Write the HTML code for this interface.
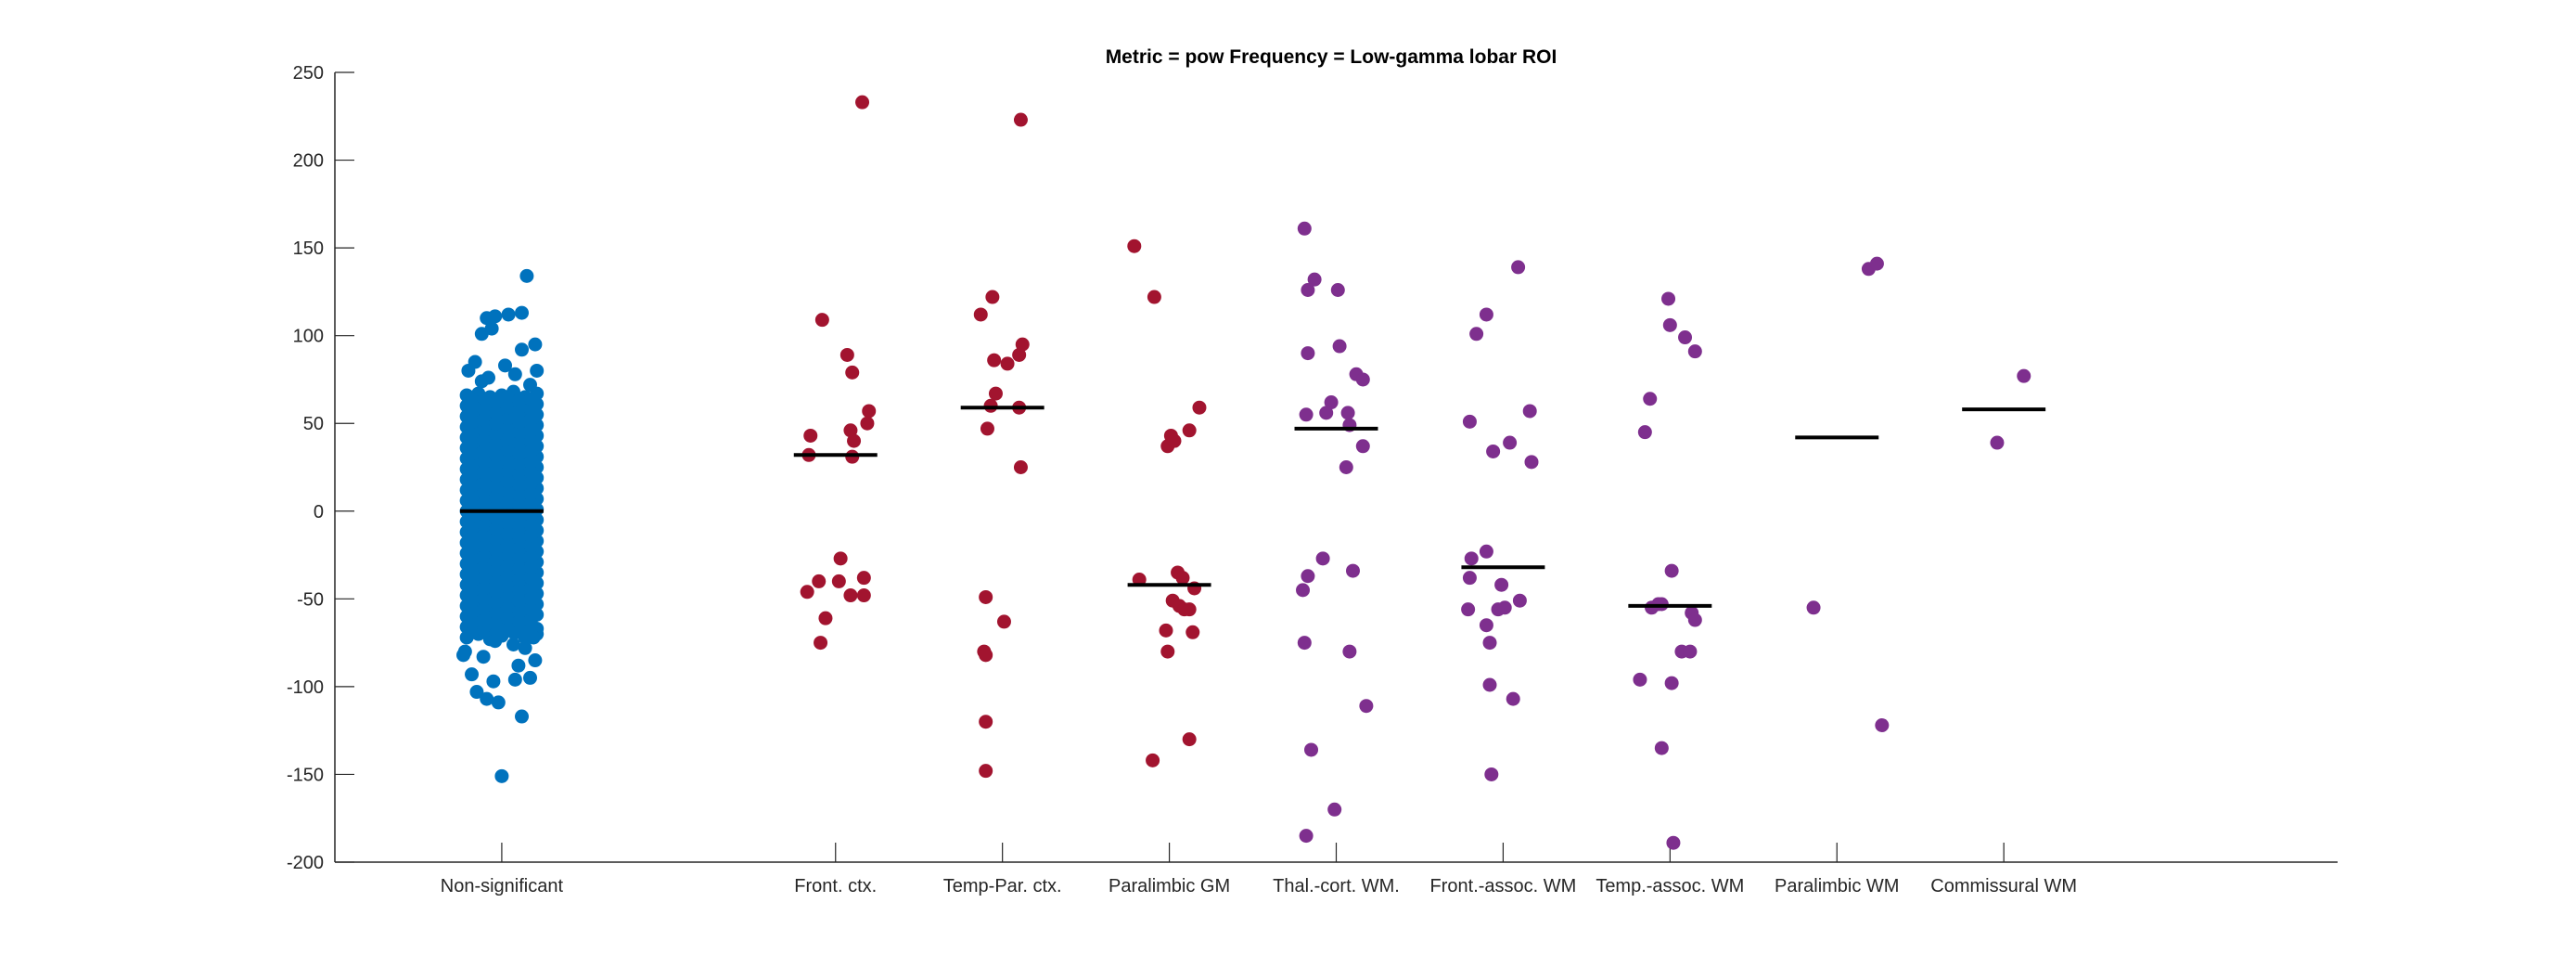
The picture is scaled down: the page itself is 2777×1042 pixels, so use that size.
<!DOCTYPE html>
<html><head><meta charset="utf-8"><style>
body{margin:0;background:#fff;}
svg{display:block;}
text{font-family:"Liberation Sans",sans-serif;fill:#262626;}
</style></head><body>
<svg id="chart" width="2777" height="1042" viewBox="0 0 2777 1042" xmlns="http://www.w3.org/2000/svg">
<rect width="2777" height="1042" fill="#fff"/>
<text x="1435" y="68" text-anchor="middle" font-size="21" font-weight="bold" style="fill:#000">Metric = pow Frequency = Low-gamma lobar ROI</text>
<g id="axes"></g>
<g id="marks"></g>
</svg>
<script>
const categories = ["Non-significant","Front. ctx.","Temp-Par. ctx.","Paralimbic GM","Thal.-cort. WM.","Front.-assoc. WM","Temp.-assoc. WM","Paralimbic WM","Commissural WM"];
const catPos = [1,3,4,5,6,7,8,9,10];
const yTicks = [250,200,150,100,50,0,-50,-100,-150,-200];
const medians = [0,32,59,-42,47,-32,-54,42,58];
const groupColors = ["#0072BD","#A2142F","#A2142F","#A2142F","#7E2F8E","#7E2F8E","#7E2F8E","#7E2F8E","#7E2F8E"];

const frontY = [233,109,89,79,43,46,40,57,50,32,31,-27,-40,-40,-46,-48,-48,-38,-61,-75];
const frontJ = [0.16,-0.08,0.07,0.10,-0.15,0.09,0.11,0.20,0.19,-0.16,0.10,0.03,-0.10,0.02,-0.17,0.09,0.17,0.17,-0.06,-0.09];
const tempParY = [223,122,112,86,84,95,89,67,47,60,59,25,-49,-63,-80,-82,-120,-148];
const tempParJ = [0.11,-0.06,-0.13,-0.05,0.03,0.12,0.10,-0.04,-0.09,-0.07,0.10,0.11,-0.10,0.01,-0.11,-0.10,-0.10,-0.10];
const paraGMY = [151,122,59,46,43,37,40,-39,-35,-38,-51,-54,-56,-44,-56,-68,-69,-80,-142,-130];
const paraGMJ = [-0.21,-0.09,0.18,0.12,0.01,-0.01,0.03,-0.18,0.05,0.08,0.02,0.06,0.09,0.15,0.12,-0.02,0.14,-0.01,-0.10,0.12];
const thalY = [161,132,126,126,90,94,62,78,75,56,55,56,37,49,25,-27,-37,-34,-45,-75,-80,-111,-136,-170,-185];
const thalJ = [-0.19,-0.13,-0.17,0.01,-0.17,0.02,-0.03,0.12,0.16,0.07,-0.18,-0.06,0.16,0.08,0.06,-0.08,-0.17,0.10,-0.20,-0.19,0.08,0.18,-0.15,-0.01,-0.18];
const frontAssocY = [139,112,101,51,57,39,34,28,-23,-27,-38,-42,-56,-51,-56,-65,-55,-75,-99,-107,-150];
const frontAssocJ = [0.09,-0.10,-0.16,-0.20,0.16,0.04,-0.06,0.17,-0.10,-0.19,-0.20,-0.01,-0.03,0.10,-0.21,-0.10,0.01,-0.08,-0.08,0.06,-0.07];
const tempAssocY = [121,106,99,91,64,45,-34,-53,-55,-53,-58,-62,-80,-80,-96,-98,-135,-189];
const tempAssocJ = [-0.01,0.00,0.09,0.15,-0.12,-0.15,0.01,-0.05,-0.11,-0.07,0.13,0.15,0.07,0.12,-0.18,0.01,-0.05,0.02];
const paraWMY = [138,141,-55,-122];
const paraWMJ = [0.19,0.24,-0.14,0.27];
const commY = [77,39];
const commJ = [0.12,-0.04];

const nsOutY = [134,113,112,111,101,104,110,95,92,80,-151,-117,-109,-103,-107,-93,-97,-96,-95,-88,-85,-82,-83,80,85,83,-78,-80,76,78,72,74,-74,-76,-72];
const nsOutJ = [0.15,0.12,0.04,-0.04,-0.12,-0.06,-0.09,0.20,0.12,0.21,0.00,0.12,-0.02,-0.15,-0.09,-0.18,-0.05,0.08,0.17,0.10,0.20,-0.23,-0.11,-0.20,-0.16,0.02,0.14,-0.22,-0.08,0.08,0.17,-0.12,-0.04,0.07,0.19];
const nsCoreY = [
-72,-70,-73,-71,-69,-72,-70, -66,-65,-67,-64,-66,-65,-67, -60,-59,-61,-60,-58,-61,-59,
-54,-53,-55,-54,-52,-55,-53, -48,-47,-49,-48,-46,-49,-47, -42,-41,-43,-42,-40,-43,-41,
-36,-35,-37,-36,-34,-37,-35, -30,-29,-31,-30,-28,-31,-29, -24,-23,-25,-24,-22,-25,-23,
-18,-17,-19,-18,-16,-19,-17, -12,-11,-13,-12,-10,-13,-11, -6,-5,-7,-6,-4,-7,-5,
0,1,-1,0,2,-1,1, 6,7,5,6,8,5,7, 12,13,11,12,14,11,13, 18,19,17,18,20,17,19,
24,25,23,24,26,23,25, 30,31,29,30,32,29,31, 36,37,35,36,38,35,37, 42,43,41,42,44,41,43,
48,49,47,48,50,47,49, 54,55,53,54,56,53,55, 60,61,59,60,62,59,61, 66,67,65,66,68,65,67
];
const nsCoreJ = [-0.21,-0.14,-0.07,0,0.07,0.14,0.21];
const nsCore2Y = [
-69,-68,-70,-67,-69,-68, -63,-62,-64,-61,-63,-62, -57,-56,-58,-55,-57,-56,
-51,-50,-52,-49,-51,-50, -45,-44,-46,-43,-45,-44, -39,-38,-40,-37,-39,-38,
-33,-32,-34,-31,-33,-32, -27,-26,-28,-25,-27,-26, -21,-20,-22,-19,-21,-20,
-15,-14,-16,-13,-15,-14, -9,-8,-10,-7,-9,-8, -3,-2,-4,-1,-3,-2,
3,4,2,5,3,4, 9,10,8,11,9,10, 15,16,14,17,15,16, 21,22,20,23,21,22,
27,28,26,29,27,28, 33,34,32,35,33,34, 39,40,38,41,39,40, 45,46,44,47,45,46,
51,52,50,53,51,52, 57,58,56,59,57,58, 63,64,62,65,63,64
];
const nsCore2J = [-0.175,-0.105,-0.035,0.035,0.105,0.175];

const groupsY = [nsCoreY,frontY,tempParY,paraGMY,thalY,frontAssocY,tempAssocY,paraWMY,commY];
const groupsJ = [null,frontJ,tempParJ,paraGMJ,thalJ,frontAssocJ,tempAssocJ,paraWMJ,commJ];

const PL=361, PR=2520, PT=78, PB=929, XMIN=0, XMAX=12, YMIN=-200, YMAX=250;
const xS = v => PL + (v-XMIN)/(XMAX-XMIN)*(PR-PL);
const yS = v => PB - (v-YMIN)/(YMAX-YMIN)*(PB-PT);
const NS="http://www.w3.org/2000/svg";
const axes=document.getElementById('axes'), marks=document.getElementById('marks');
function mk(tag, attrs, parent){const e=document.createElementNS(NS,tag);for(const k in attrs)e.setAttribute(k,attrs[k]);parent.appendChild(e);return e;}

let e=mk('line',{x1:PL,y1:PT,x2:PL,y2:PB,stroke:'#262626','stroke-width':1.5},axes);


e=mk('line',{x1:PL,y1:PB,x2:PR,y2:PB,stroke:'#262626','stroke-width':1.5},axes);


yTicks.forEach(t=>{
  const y=yS(t);
  let l=mk('line',{x1:PL,y1:y,x2:PL+21,y2:y,stroke:'#262626','stroke-width':1.2},axes);
  
  
  let tx=mk('text',{x:PL-12,y:y+7,'text-anchor':'end','font-size':20},axes);
  tx.textContent=t;
  
  
});
categories.forEach((c,i)=>{
  const x=xS(catPos[i]);
  let l=mk('line',{x1:x,y1:PB,x2:x,y2:PB-21,stroke:'#262626','stroke-width':1.2},axes);
  
  
  let tx=mk('text',{x:x,y:PB+32,'text-anchor':'middle','font-size':20},axes);
  tx.textContent=c;
  
  
});
function dot(cx,v,col){
  const c=mk('circle',{cx:cx,cy:yS(v),r:7.5,fill:col},marks);
  
  
}
groupsY.forEach((ys,g)=>{
  const col=groupColors[g];
  ys.forEach((v,i)=>{
    const j = g===0 ? nsCoreJ[i%nsCoreJ.length] : groupsJ[g][i];
    dot(xS(catPos[g]+j),v,col);
  });
  if(g===0){
    nsCore2Y.forEach((v,i)=>dot(xS(catPos[0]+nsCore2J[i%nsCore2J.length]),v,col));
    nsOutY.forEach((v,i)=>dot(xS(catPos[0]+nsOutJ[i]),v,col));
  }
});
medians.forEach((m,i)=>{
  const l=mk('line',{x1:xS(catPos[i]-0.25),x2:xS(catPos[i]+0.25),y1:yS(m),y2:yS(m),stroke:'#000','stroke-width':4},marks);
  
  
});
</script>
</body></html>
